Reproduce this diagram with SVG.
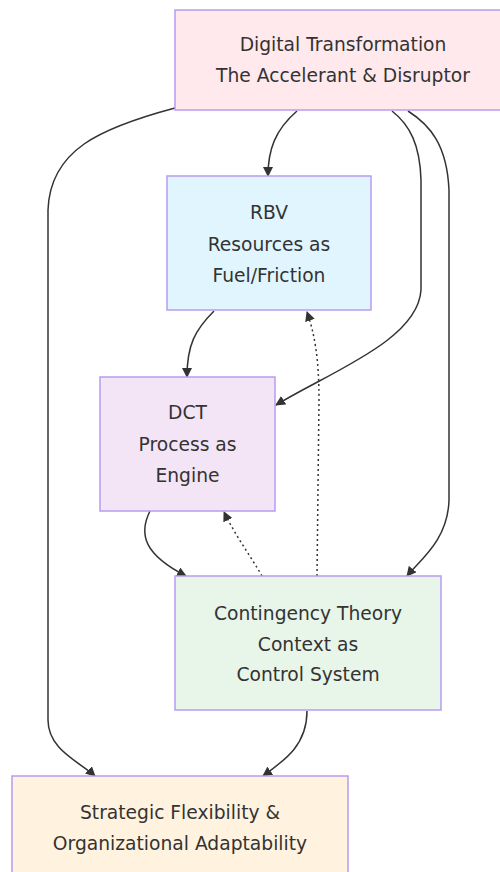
<svg xmlns="http://www.w3.org/2000/svg" width="500" height="872" viewBox="0 0 500 872">
<defs>
<marker id="ah" viewBox="0 0 10 10" refX="9" refY="5" markerWidth="10" markerHeight="10" markerUnits="userSpaceOnUse" orient="auto">
<path d="M0,0 L10,5 L0,10 z" fill="#333"/>
</marker>
<style>
.node rect{stroke:#b79cf0;stroke-width:1.5}
.node text{font-family:"DejaVu Sans","Liberation Sans",sans-serif;font-size:18.7px;fill:#333;text-anchor:middle}
.edge{fill:none;stroke:#333;stroke-width:1.5;marker-end:url(#ah)}
.dot{stroke-dasharray:2,3}
</style>
</defs>
<rect width="500" height="872" fill="#fff"/>
<g id="connectors">
<path class="edge" d="M175,108 C100,128 50,150 48,210 L48,720 C48,750 80,762 95,776"/>
<path class="edge" d="M297,111 C275,130 268,150 268,176"/>
<path class="edge" d="M392,111 C410,125 420,145 421,180 L421,290 C418,340 330,372 276,405"/>
<path class="edge" d="M408,111 C430,125 447,145 449,190 L449,500 C448,540 420,560 407,576"/>
<path class="edge" d="M214,311 C195,330 187,345 187,377"/>
<path class="edge" d="M150,511 C138,535 145,555 186,576"/>
<path class="edge dot" d="M262,576 C250,555 235,535 224,512"/>
<path class="edge dot" d="M317,576 L319,400 C319,360 315,335 307,312"/>
<path class="edge" d="M307,711 C307,745 285,760 263,776"/>
</g>
<g id="dt" class="node">
<rect x="175" y="10" width="340" height="100" fill="#ffe9ec"/>
<text x="343" y="51">Digital Transformation</text>
<text x="343" y="82">The Accelerant &amp; Disruptor</text>
</g>
<g id="rbv" class="node">
<rect x="167" y="176" width="204" height="134" fill="#e1f5fe"/>
<text x="269" y="219">RBV</text>
<text x="269" y="251">Resources as</text>
<text x="269" y="282">Fuel/Friction</text>
</g>
<g id="dct" class="node">
<rect x="100" y="377" width="175" height="134" fill="#f3e5f5"/>
<text x="187.5" y="419">DCT</text>
<text x="187.5" y="451">Process as</text>
<text x="187.5" y="482">Engine</text>
</g>
<g id="ct" class="node">
<rect x="175" y="576" width="266" height="134" fill="#e8f5e9"/>
<text x="308" y="620">Contingency Theory</text>
<text x="308" y="651">Context as</text>
<text x="308" y="681">Control System</text>
</g>
<g id="sf" class="node">
<rect x="12" y="776" width="336" height="120" fill="#fff3e0"/>
<text x="180" y="819">Strategic Flexibility &amp;</text>
<text x="180" y="850">Organizational Adaptability</text>
</g>
</svg>
